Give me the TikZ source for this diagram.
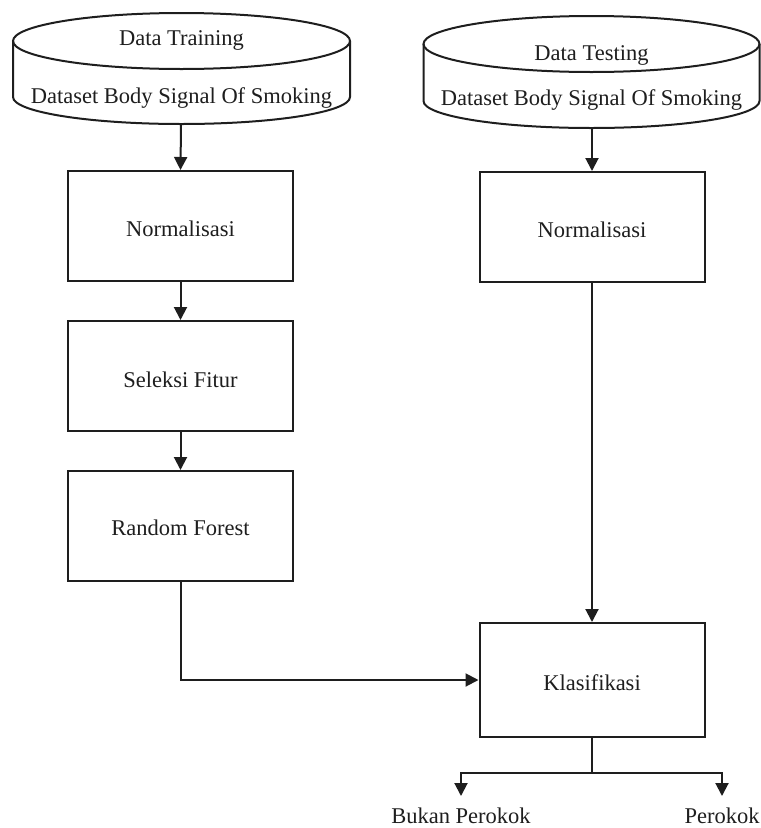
\documentclass[tikz,border=0pt]{standalone}
\usepackage{fontspec}
\setmainfont{Liberation Serif}
\usetikzlibrary{arrows.meta}
\definecolor{ink}{HTML}{1E1E1E}
\begin{document}
\begin{tikzpicture}[x=1pt,y=1pt,
  line/.style={line width=2pt, draw=ink},
  arr/.style={line, -{Triangle[length=13pt,width=13pt]}},
  txt/.style={font=\fontsize{22.5}{26}\selectfont, text=ink, inner sep=0pt, anchor=base},
  proc/.style={draw=ink, line width=2pt, minimum width=225pt, inner sep=0pt},
  cyl/.style={line width=2pt, draw=ink}]
\useasboundingbox (0,0) rectangle (761,-828);

% left cylinder
\draw[cyl] (181.5,-41) ellipse [x radius=168.5pt, y radius=28pt];
\draw[cyl] (13,-41) -- (13,-97) arc[start angle=180, end angle=360, x radius=168.5pt, y radius=27pt] -- (350,-41);
\node[txt] (dtrain) at (181.5,-45) {Data Training};
\node[txt] (dsL) at (181.5,-103) {Dataset Body Signal Of Smoking};
\coordinate (cylL) at (181,-124);

% right cylinder
\draw[cyl] (591.5,-44) ellipse [x radius=168pt, y radius=28pt];
\draw[cyl] (423.5,-44) -- (423.5,-101) arc[start angle=180, end angle=360, x radius=168pt, y radius=27pt] -- (759.5,-44);
\node[txt] (dtest) at (591.5,-60) {Data Testing};
\node[txt] (dsR) at (591.5,-105) {Dataset Body Signal Of Smoking};
\coordinate (cylR) at (592,-128);

% boxes
\node[proc, minimum height=110pt] (nL) at (180.5,-226) {};
\node[txt] at (180.5,-236) {Normalisasi};
\node[proc, minimum height=110pt] (sf) at (180.5,-376) {};
\node[txt] at (180.5,-387) {Seleksi Fitur};
\node[proc, minimum height=110pt] (rf) at (180.5,-526) {};
\node[txt] at (180.5,-535) {Random Forest};
\node[proc, minimum height=110pt] (nR) at (592,-227) {};
\node[txt] at (592,-237) {Normalisasi};
\node[proc, minimum height=114pt] (kl) at (592,-680) {};
\node[txt] at (592,-690) {Klasifikasi};

% outputs
\node[txt] (bk) at (461,-823) {Bukan Perokok};
\node[txt] (pk) at (722,-823) {Perokok};
\coordinate (split) at (592,-773);
\coordinate (bkt) at (461,-796);
\coordinate (pkt) at (722,-796);

% connectors
\draw[arr] (cylL) -- (nL.north);
\draw[arr] (nL.south) -- (sf.north);
\draw[arr] (sf.south) -- (rf.north);
\draw[arr] (cylR) -- (nR.north);
\draw[arr] (nR.south) -- (kl.north);
\draw[arr] (rf.south) |- (kl.west);
\draw[line] (kl.south) -- (split);
\draw[arr] (split) -| (bkt);
\draw[arr] (split) -| (pkt);
\end{tikzpicture}
\end{document}
